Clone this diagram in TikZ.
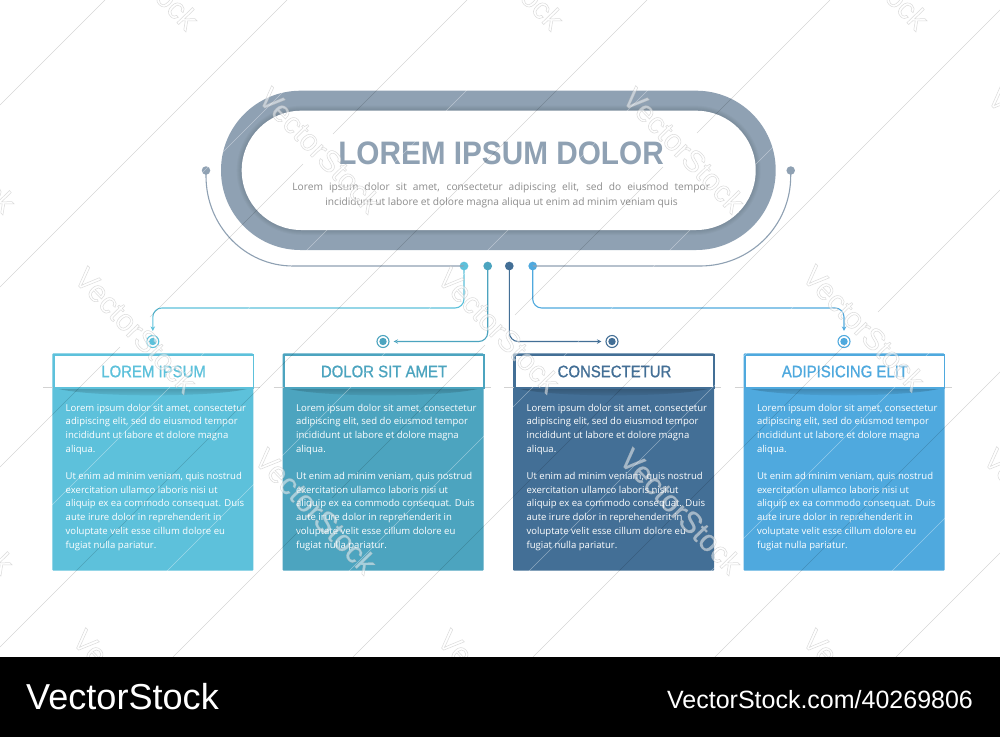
\documentclass[tikz,border=0pt]{standalone}
\usepackage{fontspec}
\setmainfont{Open Sans}
\newfontfamily\ttlfont[FakeStretch=0.915]{Liberation Sans}
\newfontfamily\hdfont[FakeBold=1.0,FakeStretch=0.9]{Liberation Sans}
\newfontfamily\arial{Liberation Sans}
\usetikzlibrary{arrows.meta}
\definecolor{ringc}{HTML}{8FA1B3}
\definecolor{subc}{HTML}{8C8C8C}
\definecolor{ca}{HTML}{5DC1DB}
\definecolor{cb}{HTML}{4CA4BF}
\definecolor{cc}{HTML}{436F96}
\definecolor{cd}{HTML}{4FA9DE}
\tikzset{
  x=1pt,y=-1pt,
  dotn/.style={circle,fill=#1,minimum size=8.7pt,inner sep=0pt},
  smalldot/.style={circle,fill=ringc,minimum size=8.5pt,inner sep=0pt},
  target/.style={circle,draw=#1,line width=1.1pt,fill=white,minimum size=12pt,inner sep=0pt,
    path picture={\fill[#1] (path picture bounding box.center) circle (3.7pt);}},
  link/.style={draw=#1,line width=1.1pt,rounded corners=9pt,-{Stealth[length=4.5pt,width=4.5pt]},shorten >=4pt},
  curve/.style={draw=ringc,line width=1.1pt},
  bodybox/.style={fill=#1,draw=none,rounded corners=1pt},
  headbox/.style={draw=#1,line width=1.6pt,fill=white,text=#1,font=\hdfont\fontsize{16.6}{16.6}\selectfont,
    minimum width=199.4pt,minimum height=33pt,inner sep=0pt},
  bodytext/.style={text=white,font=\fontsize{9.55}{13.7}\selectfont,align=left,anchor=north west,inner sep=0pt},
  mainline/.style={draw=black,opacity=.16,line width=.55pt},
  paleline/.style={draw=white,opacity=.4,line width=.6pt},
  wmark/.style={rotate=-46,opacity=.5,font=\arial\fontsize{30}{30}\selectfont},
}
\newcommand{\infobox}[5]{% name, left x, colour, title, text
  \path[bodybox=#3] (#2,353.4) rectangle (#2+201,570.7);
  \draw[gray!35,line width=.4pt] (#2-9,387.3) -- (#2+208,387.3);
  \path[top color=black!22!#3,bottom color=#3,shading angle=0]
    (#2,387.3) -- (#2+201,387.3) .. controls (#2+170,398) and (#2+31,398) .. (#2,387.3) -- cycle;
  \node[headbox=#3,anchor=north west] (#1) at (#2+.8,354.2) {#4};
  \node[bodytext] (#1t) at (#2+13.2,403.6) {#5};
}
\newcommand{\wm}[2]{%
  \node[wmark] at (#1,#2) {\special{pdf:code q 2 Tr .5 w .72 G 1 g}VectorStock\special{pdf:code Q}};
}
\newcommand{\boxtxt}{Lorem ipsum dolor sit amet, consectetur\\adipiscing elit, sed do eiusmod tempor\\incididunt ut labore et dolore magna\\aliqua.\\[13.7pt]Ut enim ad minim veniam, quis nostrud\\exercitation ullamco laboris nisi ut\\aliquip ex ea commodo consequat. Duis\\aute irure dolor in reprehenderit in\\voluptate velit esse cillum dolore eu\\fugiat nulla pariatur.}
\begin{document}
\begin{tikzpicture}
\useasboundingbox (0,0) rectangle (1000,737);
\fill[white] (0,0) rectangle (1000,737);
% ring
\fill[ringc,rounded corners=79.5pt] (221,90.7) rectangle (775.7,250);
\foreach \w in {2,4,6,8,10}
  \draw[black,opacity=.025,line width=\w pt,rounded corners=60pt] (241.7,110.7) rectangle (755.7,230);
\fill[white,rounded corners=59.6pt] (241.7,110.7) rectangle (755.7,230);
\node[text=ringc,font=\ttlfont\bfseries\fontsize{32.5}{32.5}\selectfont] (title) at (501,153.5) {LOREM IPSUM DOLOR};
\node[text=subc,font=\fontsize{10.2}{10.2}\selectfont,inner sep=0pt] (sub1) at (501.2,187.7) {\makebox[417.5pt][s]{Lorem ipsum dolor sit amet, consectetur adipiscing elit, sed do eiusmod tempor}};
\node[text=subc,font=\fontsize{10.2}{10.2}\selectfont,inner sep=0pt] (sub2) at (501.5,203) {incididunt ut labore et dolore magna aliqua ut enim ad minim veniam quis};
% boxes
\infobox{b1}{52.3}{ca}{LOREM IPSUM}{\boxtxt}
\infobox{b2}{282.7}{cb}{DOLOR SIT AMET}{\boxtxt}
\infobox{b3}{513.2}{cc}{CONSECTETUR}{\boxtxt}
\infobox{b4}{743.6}{cd}{ADIPISICING ELIT}{\boxtxt}
% dots and targets
\node[smalldot] (ld) at (206,170.5) {};
\node[smalldot] (rd) at (790.7,170.5) {};
\node[dotn=ca] (d1) at (464,266) {};
\node[dotn=cb] (d2) at (487.7,266) {};
\node[dotn=cc] (d3) at (509.3,266) {};
\node[dotn=cd] (d4) at (532.7,266) {};
\node[target=ca] (t1) at (152.8,341.5) {};
\node[target=cb] (t2) at (383,341.5) {};
\node[target=cc] (t3) at (612,341.5) {};
\node[target=cd] (t4) at (844,341.5) {};
% curves
\draw[curve] (ld.center) -- (206,176) .. controls (206,226) and (245,266) .. (293,266) -- (d1.center);
\draw[curve] (rd.center) -- (790.7,176) .. controls (790.7,226) and (750,266) .. (700,266) -- (d4.center);
% links
\coordinate (k1) at (0,308);
\coordinate (k2) at (0,341.5);
\path[link=ca] (d1.center) -- (d1.center |- k1) -- (t1.center |- k1) -- (t1.north);
\path[link=cb] (d2.center) -- (d2.center |- k2) -- (t2.east);
\path[link=cc] (d3.center) -- (d3.center |- k2) -- (t3.west);
\path[link=cd] (d4.center) -- (d4.center |- k1) -- (t4.center |- k1) -- (t4.north);
% watermark lines and marks
\begin{scope}
\clip (0,0) rectangle (1000,657);
\foreach \c in {194,375,557,738,920,1100,1282,1463}
  \draw[paleline] (\c,0) -- (0,\c);
\foreach \c in {105,287,647,1010,1372,1553}
  \draw[mainline] (\c,0) -- (0,\c);
\draw[mainline] (878,312) -- (1000,190) (845,345) -- (533,657);
\draw[mainline] (0,467) -- (120,347) (150,317) -- (303,164) (333,134) -- (467,0);
\draw[mainline] (173,657) -- (302,528) (332,498) -- (485,345) (515,315) -- (663,167) (697,133) -- (830,0);
\wm{138}{-33}\wm{503}{-33}\wm{868}{-33}
\wm{-45}{150}\wm{320}{150}\wm{684}{150}\wm{1049}{150}
\wm{136}{330}\wm{499}{330}\wm{864}{328}
\wm{-47}{511}\wm{316}{511}\wm{681}{511}\wm{1045}{511}
\wm{134}{692}\wm{499}{692}\wm{864}{692}
\end{scope}
% footer
\fill[black] (0,657) rectangle (1000,737);
\node[text=white,font=\arial\fontsize{36.1}{36.1}\selectfont,inner sep=0pt] (vs) at (122.5,697) {VectorStock};
\node[text=white,font=\arial\fontsize{25}{25}\selectfont,inner sep=0pt] (vu) at (820,699.5) {VectorStock.com/40269806};
\end{tikzpicture}
\end{document}
